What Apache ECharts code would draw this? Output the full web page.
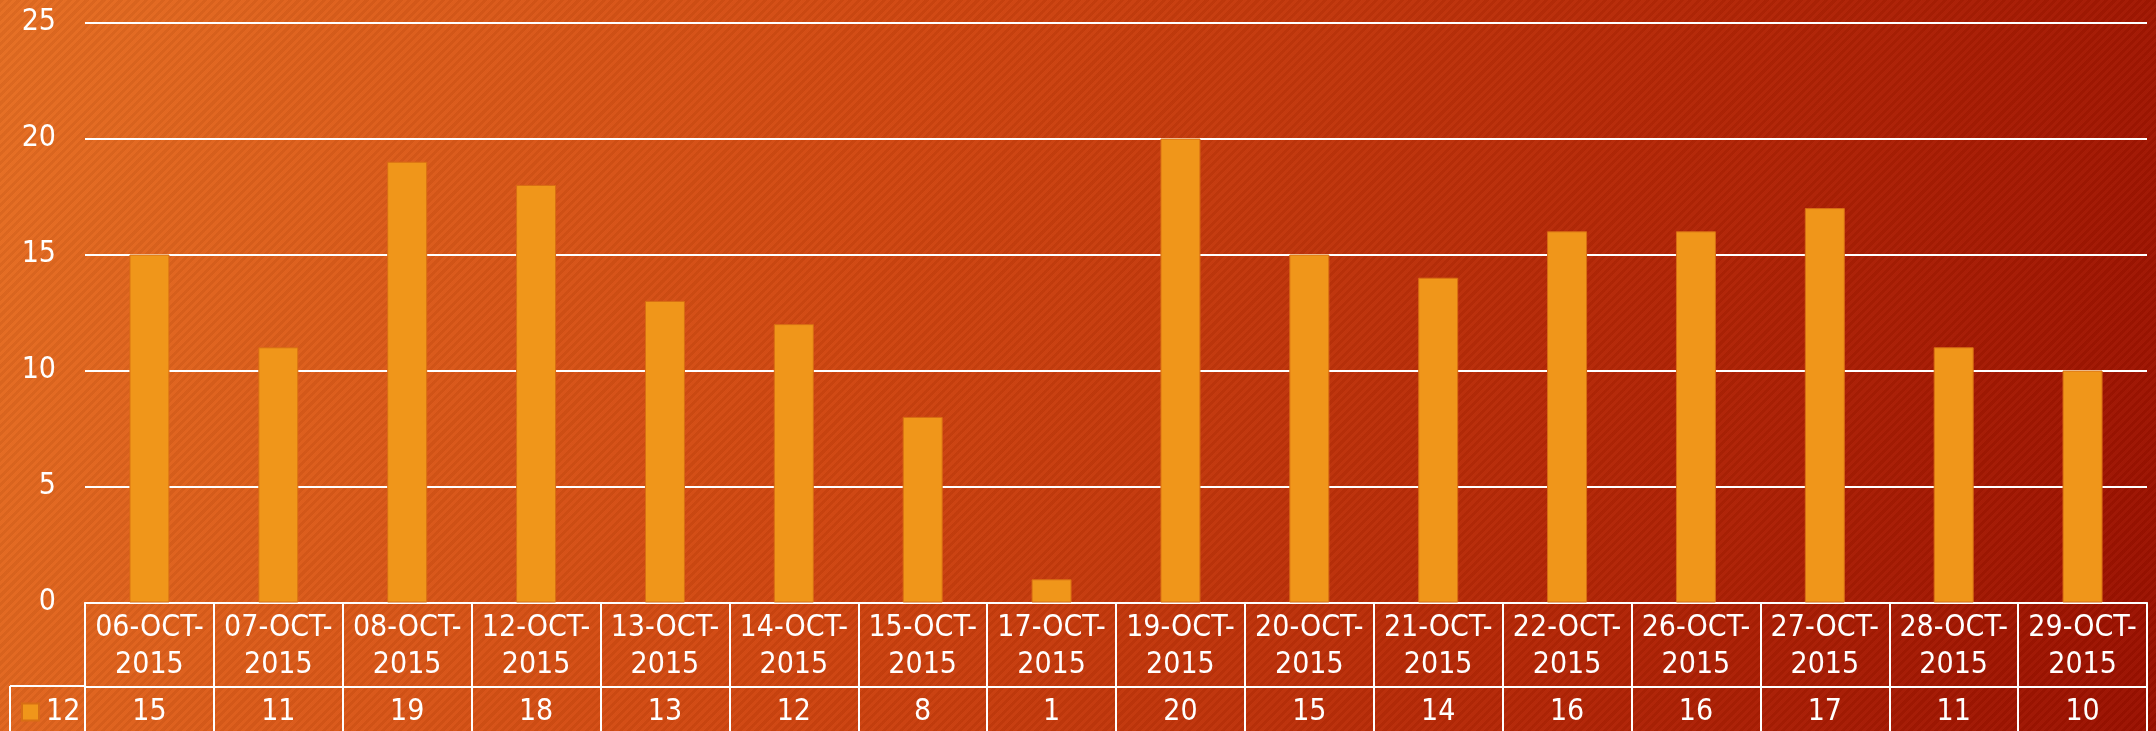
<!DOCTYPE html>
<html>
<head>
<meta charset="utf-8">
<script src="https://cdn.jsdelivr.net/npm/echarts@6/dist/echarts.min.js"></script>
<style>
  html, body { margin: 0; padding: 0; }
  #chart {
    width: 2156px;
    height: 731px;
    background:
      repeating-linear-gradient(135deg, rgba(0,0,0,0.045) 0px, rgba(0,0,0,0.045) 3px, rgba(255,255,255,0.02) 3px, rgba(255,255,255,0.02) 6px),
      linear-gradient(105deg, #E66E22 0%, #D04610 40%, #B52706 72%, #9A1000 100%);
  }
</style>
</head>
<body>
<div id="chart"></div>
<script>
const dates = ['06-OCT-2015', '07-OCT-2015', '08-OCT-2015', '12-OCT-2015', '13-OCT-2015', '14-OCT-2015',
  '15-OCT-2015', '17-OCT-2015', '19-OCT-2015', '20-OCT-2015', '21-OCT-2015', '22-OCT-2015',
  '26-OCT-2015', '27-OCT-2015', '28-OCT-2015', '29-OCT-2015'];
const counts = [15, 11, 19, 18, 13, 12, 8, 1, 20, 15, 14, 16, 16, 17, 11, 10];
const seriesName = '12';
const yTicks = [0, 5, 10, 15, 20, 25];

const font = '"DejaVu Sans Condensed", "DejaVu Sans", sans-serif';
const fs = 30;
const white = '#FFFFFF';

const chart = echarts.init(document.getElementById('chart'), null, { renderer: 'canvas' });

// header labels split after the month so they wrap like the table
const headers = dates.map(d => d.slice(0, 7) + '\n' + d.slice(7));

const option = {
  backgroundColor: 'transparent',
  animation: false,
  textStyle: { fontFamily: font },
  grid: { left: 85, right: 9, top: 22.5, bottom: 128.5 },
  legend: {
    data: [seriesName],
    left: 16, top: 692,
    icon: 'rect',
    itemWidth: 17, itemHeight: 17,
    textStyle: { color: white, fontSize: fs, fontFamily: font, padding: [0, 0, 0, 2] }
  },
  xAxis: [
    {
      type: 'category',
      data: headers,
      position: 'bottom',
      axisLine: { show: true, lineStyle: { color: white, width: 2 } },
      axisTick: { show: true, length: 129, lineStyle: { color: white, width: 2 } },
      axisLabel: { color: white, fontSize: fs, lineHeight: 37, margin: 7, interval: 0, fontFamily: font }
    },
    {
      type: 'category',
      data: counts.map(String),
      position: 'bottom',
      offset: 84,
      axisLine: { show: true, lineStyle: { color: white, width: 2 } },
      axisTick: { show: false },
      axisLabel: { color: white, fontSize: fs, margin: 11, interval: 0, fontFamily: font }
    }
  ],
  yAxis: {
    type: 'value',
    min: yTicks[0],
    max: yTicks[yTicks.length - 1],
    interval: 5,
    axisLine: { show: false },
    axisTick: { show: false },
    axisLabel: { color: white, fontSize: fs, margin: 29, fontFamily: font },
    splitLine: { lineStyle: { color: white, width: 2 } }
  },
  series: [
    {
      name: seriesName,
      type: 'bar',
      data: counts,
      barWidth: 40,
      itemStyle: { color: '#F0961A', borderColor: '#D86E14', borderWidth: 1 }
    }
  ],
  graphic: [
    { type: 'line', shape: { x1: 10, y1: 686, x2: 85, y2: 686 }, style: { stroke: white, lineWidth: 2 } },
    { type: 'line', shape: { x1: 10, y1: 686, x2: 10, y2: 731 }, style: { stroke: white, lineWidth: 2 } }
  ]
};

chart.setOption(option);
</script>
</body>
</html>
